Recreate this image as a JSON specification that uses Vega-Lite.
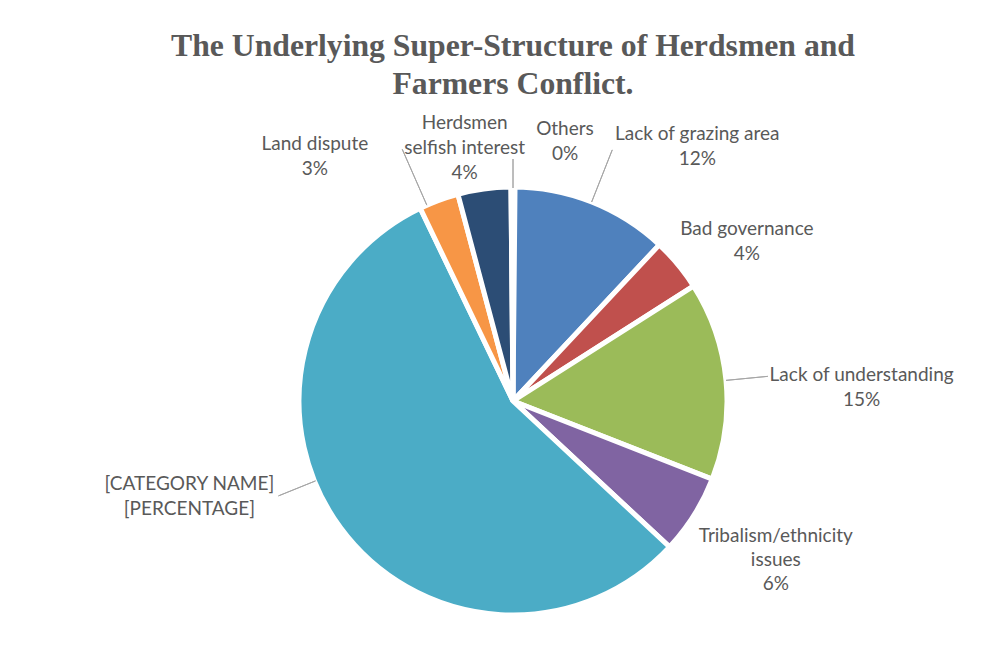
{
  "$schema": "https://vega.github.io/schema/vega-lite/v6.json",
  "width": 980,
  "height": 492,
  "padding": {"top": 31, "left": 23, "right": 0, "bottom": 0},
  "background": "white",
  "title": {
    "text": ["The Underlying Super-Structure of Herdsmen and", "Farmers Conflict."],
    "font": "Liberation Serif",
    "fontSize": 31.7,
    "fontWeight": "bold",
    "color": "#595959",
    "lineHeight": 38,
    "anchor": "middle",
    "offset": 13
  },
  "data": {
    "values": [
      {"category": "Lack of grazing area", "value": 12, "label": "Lack of grazing area\n12%"},
      {"category": "Bad governance", "value": 4, "label": "Bad governance\n4%"},
      {"category": "Lack of understanding", "value": 15, "label": "Lack of understanding\n15%"},
      {"category": "Tribalism/ethnicity issues", "value": 6, "label": "Tribalism/ethnicity\nissues\n6%"},
      {"category": "[CATEGORY NAME]", "value": 56, "label": "[CATEGORY NAME]\n[PERCENTAGE]"},
      {"category": "Land dispute", "value": 3, "label": "Land dispute\n3%"},
      {"category": "Herdsmen selfish interest", "value": 4, "label": "Herdsmen\nselfish interest\n4%"},
      {"category": "Others", "value": 0.3, "label": "Others\n0%"}
    ]
  },
  "transform": [
    {"window": [{"op": "sum", "field": "value", "as": "cum"}]},
    {"calculate": "datum.cum - datum.value", "as": "start"},
    {"calculate": "datum.cum - datum.value / 2", "as": "mid"}
  ],
  "layer": [
    {
      "mark": {"type": "arc", "radius": 214, "stroke": "white", "strokeWidth": 5},
      "encoding": {
        "theta": {"field": "start", "type": "quantitative"},
        "theta2": {"field": "cum"},
        "color": {
          "field": "category",
          "type": "nominal",
          "legend": null,
          "scale": {
            "domain": ["Lack of grazing area", "Bad governance", "Lack of understanding", "Tribalism/ethnicity issues", "[CATEGORY NAME]", "Land dispute", "Herdsmen selfish interest", "Others"],
            "range": ["#4F81BD", "#C0504D", "#9BBB59", "#8064A2", "#4BACC6", "#F79646", "#2C4D75", "#772C2A"]
          }
        }
      }
    },
    {
      "transform": [{"filter": "datum.category === 'Lack of understanding'"}],
      "mark": {"type": "arc", "radius": 214, "radius2": 256, "filled": false, "stroke": "#A6A6A6", "strokeWidth": 1},
      "encoding": {"theta": {"field": "mid", "type": "quantitative"}, "theta2": {"field": "mid"}}
    },
    {
      "transform": [{"filter": "datum.category === 'Lack of grazing area'"}],
      "mark": {"type": "arc", "radius": 214, "radius2": 270, "filled": false, "stroke": "#A6A6A6", "strokeWidth": 1},
      "encoding": {"theta": {"field": "mid", "type": "quantitative"}, "theta2": {"field": "mid"}}
    },
    {
      "transform": [{"filter": "datum.category === 'Others'"}],
      "mark": {"type": "arc", "radius": 213, "radius2": 242, "filled": false, "stroke": "#A6A6A6", "strokeWidth": 1},
      "encoding": {"theta": {"field": "mid", "type": "quantitative"}, "theta2": {"field": "mid"}}
    },
    {
      "transform": [{"filter": "datum.category === 'Land dispute'"}],
      "mark": {"type": "arc", "radius": 214, "radius2": 275, "thetaOffset": -0.06, "theta2Offset": -0.06, "filled": false, "stroke": "#A6A6A6", "strokeWidth": 1},
      "encoding": {"theta": {"field": "mid", "type": "quantitative"}, "theta2": {"field": "mid"}}
    },
    {
      "transform": [{"filter": "datum.category === '[CATEGORY NAME]'"}],
      "mark": {"type": "arc", "radius": 213, "radius2": 253, "thetaOffset": 0.25, "theta2Offset": 0.25, "filled": false, "stroke": "#A6A6A6", "strokeWidth": 1},
      "encoding": {"theta": {"field": "mid", "type": "quantitative"}, "theta2": {"field": "mid"}}
    },
    {
      "transform": [{"filter": "datum.category === 'Lack of grazing area'"}],
      "mark": {"type": "text", "radius": 300, "dx": 74, "dy": 11.5, "align": "center", "baseline": "middle", "lineBreak": "\n", "lineHeight": 25, "font": "Lato", "fontSize": 19, "color": "#595959"},
      "encoding": {"theta": {"field": "mid", "type": "quantitative"}, "text": {"field": "label"}}
    },
    {
      "transform": [{"filter": "datum.category === 'Bad governance'"}],
      "mark": {"type": "text", "radius": 300, "dx": 3, "dy": 19.5, "align": "center", "baseline": "middle", "lineBreak": "\n", "lineHeight": 25, "font": "Lato", "fontSize": 19, "color": "#595959"},
      "encoding": {"theta": {"field": "mid", "type": "quantitative"}, "text": {"field": "label"}}
    },
    {
      "transform": [{"filter": "datum.category === 'Lack of understanding'"}],
      "mark": {"type": "text", "radius": 300, "dx": 50, "dy": 2.5, "align": "center", "baseline": "middle", "lineBreak": "\n", "lineHeight": 25, "font": "Lato", "fontSize": 19, "color": "#595959"},
      "encoding": {"theta": {"field": "mid", "type": "quantitative"}, "text": {"field": "label"}}
    },
    {
      "transform": [{"filter": "datum.category === 'Tribalism/ethnicity issues'"}],
      "mark": {"type": "text", "radius": 300, "dx": 9, "dy": -25, "align": "center", "baseline": "middle", "lineBreak": "\n", "lineHeight": 24, "font": "Lato", "fontSize": 19, "color": "#595959"},
      "encoding": {"theta": {"field": "mid", "type": "quantitative"}, "text": {"field": "label"}}
    },
    {
      "transform": [{"filter": "datum.category === '[CATEGORY NAME]'"}],
      "mark": {"type": "text", "radius": 300, "dx": -82, "dy": -94.5, "align": "center", "baseline": "middle", "lineBreak": "\n", "lineHeight": 25, "font": "Lato", "fontSize": 19, "color": "#595959"},
      "encoding": {"theta": {"field": "mid", "type": "quantitative"}, "text": {"field": "label"}}
    },
    {
      "transform": [{"filter": "datum.category === 'Land dispute'"}],
      "mark": {"type": "text", "radius": 300, "dx": -94, "dy": 24.5, "align": "center", "baseline": "middle", "lineBreak": "\n", "lineHeight": 25, "font": "Lato", "fontSize": 19, "color": "#595959"},
      "encoding": {"theta": {"field": "mid", "type": "quantitative"}, "text": {"field": "label"}}
    },
    {
      "transform": [{"filter": "datum.category === 'Herdsmen selfish interest'"}],
      "mark": {"type": "text", "radius": 300, "dx": -8, "dy": 19, "align": "center", "baseline": "middle", "lineBreak": "\n", "lineHeight": 25, "font": "Lato", "fontSize": 19, "color": "#595959"},
      "encoding": {"theta": {"field": "mid", "type": "quantitative"}, "text": {"field": "label"}}
    },
    {
      "transform": [{"filter": "datum.category === 'Others'"}],
      "mark": {"type": "text", "radius": 300, "dx": 52, "dy": 27.5, "align": "center", "baseline": "middle", "lineBreak": "\n", "lineHeight": 25, "font": "Lato", "fontSize": 19, "color": "#595959"},
      "encoding": {"theta": {"field": "mid", "type": "quantitative"}, "text": {"field": "label"}}
    }
  ],
  "config": {"view": {"stroke": null}}
}
